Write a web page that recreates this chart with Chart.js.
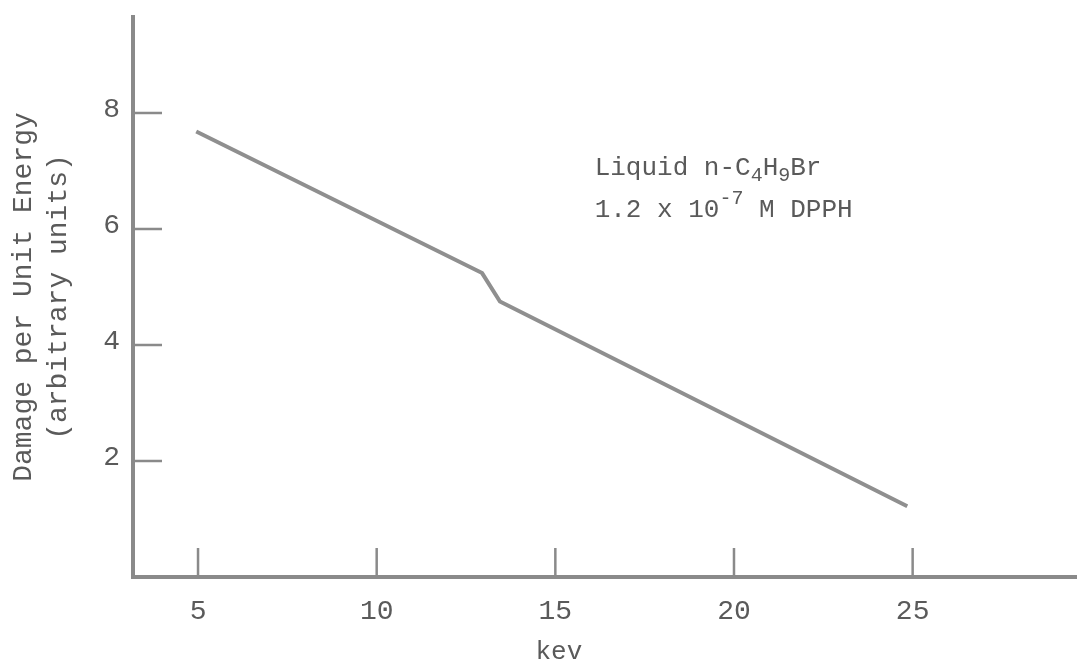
<!DOCTYPE html>
<html><head><meta charset="utf-8">
<script src="https://cdn.jsdelivr.net/npm/chart.js@4/dist/chart.umd.min.js"></script>
<style>html,body{margin:0;padding:0;background:#fff;}#wrap{width:1077px;height:664px;}</style>
</head><body><div id="wrap"><canvas id="c" width="1077" height="664"></canvas></div>
<script>
// ---- data ----
const energyKeV = [4.95, 12.95, 13.45, 24.85];
const damage    = [7.68, 5.24, 4.75, 1.22];
const xTickValues = [5, 10, 15, 20, 25];
const yTickValues = [2, 4, 6, 8];
const yTitleLines = ['Damage per Unit Energy', '(arbitrary units)'];
const xTitleText = 'kev';
const noteLine1 = [['Liquid n-C', 0], ['4', 1], ['H', 0], ['9', 1], ['Br', 0]];
const noteLine2 = [['1.2 x 10', 0], ['-7', -1], [' M DPPH', 0]];

const FONT = '"Liberation Mono", "DejaVu Sans Mono", monospace';
const INK = '#5a5a5a';
const AXIS = '#8a8a8a';

const extras = {
  id: 'extras',
  afterDraw(chart) {
    const {ctx, scales: {x, y}} = chart;
    ctx.save();
    // inward tick marks
    ctx.strokeStyle = AXIS; ctx.lineWidth = 2.5;
    xTickValues.forEach(v => {
      const px = x.getPixelForValue(v);
      ctx.beginPath(); ctx.moveTo(px, y.bottom); ctx.lineTo(px, y.bottom - 29); ctx.stroke();
    });
    yTickValues.forEach(v => {
      const py = y.getPixelForValue(v);
      ctx.beginPath(); ctx.moveTo(x.left, py); ctx.lineTo(x.left + 29, py); ctx.stroke();
    });
    // x axis title
    ctx.fillStyle = INK;
    ctx.font = '26px ' + FONT;
    ctx.textAlign = 'center'; ctx.textBaseline = 'alphabetic';
    ctx.fillText(xTitleText, x.getPixelForValue(15.1), 659);
    // annotation
    const drawRich = (parts, x0, base) => {
      ctx.textAlign = 'left';
      let cx = x0;
      parts.forEach(([t, k]) => {
        const size = k === 0 ? 26 : 20;
        ctx.font = size + 'px ' + FONT;
        const dy = k === 1 ? 6 : (k === -1 ? -13 : 0);
        ctx.fillText(t, cx, base + dy);
        cx += ctx.measureText(t).width;
      });
    };
    const ax = x.getPixelForValue(16.1);
    drawRich(noteLine1, ax, y.getPixelForValue(6.93));
    drawRich(noteLine2, ax, y.getPixelForValue(6.2));
    ctx.restore();
  }
};

new Chart(document.getElementById('c'), {
  type: 'line',
  data: {
    datasets: [{
      data: energyKeV.map((e, i) => ({x: e, y: damage[i]})),
      borderColor: '#8f8f8f',
      borderWidth: 4,
      pointRadius: 0,
      tension: 0,
      fill: false
    }]
  },
  options: {
    responsive: false,
    animation: false,
    devicePixelRatio: 1,
    layout: {padding: {top: 17, right: 0, left: 0, bottom: 0}},
    plugins: {legend: {display: false}, tooltip: {enabled: false}},
    scales: {
      x: {
        type: 'linear', min: 3.18, max: 29.6,
        afterBuildTicks: s => { s.ticks = xTickValues.map(v => ({value: v})); },
        afterFit: s => { s.height = 87; s.paddingLeft = 0; s.paddingRight = 0; },
        grid: {display: false},
        border: {display: true, color: AXIS, width: 4},
        ticks: {color: INK, font: {family: FONT, size: 28}, padding: 10, maxRotation: 0}
      },
      y: {
        type: 'linear', min: 0, max: 9.655,
        afterBuildTicks: s => { s.ticks = yTickValues.map(v => ({value: v})); },
        afterFit: s => { s.width = 133; s.paddingTop = 0; s.paddingBottom = 0; },
        grid: {display: false},
        border: {display: true, color: AXIS, width: 4},
        ticks: {color: INK, font: {family: FONT, size: 28}, padding: 5, labelOffset: -3},
        title: {display: true, text: yTitleLines, color: INK,
                font: {family: FONT, size: 28, lineHeight: 1.22}, padding: {top: 7, bottom: 0}}
      }
    }
  },
  plugins: [extras]
});
</script></body></html>
